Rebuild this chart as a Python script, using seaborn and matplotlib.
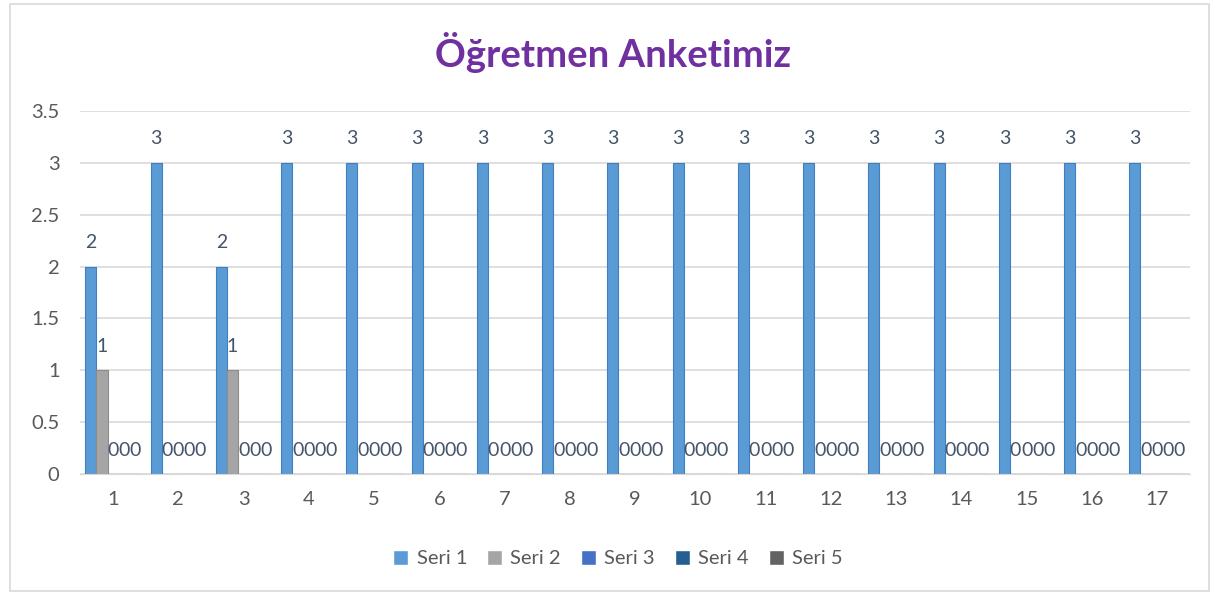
import pandas as pd
import seaborn as sns
import matplotlib.pyplot as plt
from matplotlib.patches import Rectangle

kategoriler = [str(i) for i in range(1, 18)]
seri_adlari = ['Seri 1', 'Seri 2', 'Seri 3', 'Seri 4', 'Seri 5']
seri1 = [2, 3, 2, 3, 3, 3, 3, 3, 3, 3, 3, 3, 3, 3, 3, 3, 3]
seri2 = [1, 0, 1, 0, 0, 0, 0, 0, 0, 0, 0, 0, 0, 0, 0, 0, 0]
seri3 = [0] * 17
seri4 = [0] * 17
seri5 = [0] * 17
renkler = ['#5B9BD5', '#A5A5A5', '#4472C4', '#255E91', '#636363']

df = pd.DataFrame({
    'Kategori': kategoriler * 5,
    'Seri': [s for s in seri_adlari for _ in kategoriler],
    'Deger': seri1 + seri2 + seri3 + seri4 + seri5,
})

sns.set_style('white')
plt.rcParams['font.family'] = ['Lato', 'DejaVu Sans']

fig = plt.figure(figsize=(12.19, 5.93), dpi=100)
ax = fig.add_axes([0.066, 0.2007, 0.910, 0.6123])

sns.barplot(data=df, x='Kategori', y='Deger', hue='Seri', order=kategoriler,
            hue_order=seri_adlari, palette=renkler, width=0.85, saturation=1,
            ax=ax, errorbar=None)

# bar kenarlarina hafif koyu cizgi
for cont, renk in zip(ax.containers, ['#3F7FBF', '#8C8C8C', '#3560AE', '#1D4B76', '#4F4F4F']):
    for bar in cont:
        bar.set_edgecolor(renk)
        bar.set_linewidth(0.8)
    ax.bar_label(cont, fmt='%g', padding=11, fontsize=14, color='#44546A')

ax.set_ylim(0, 3.5)
ax.set_yticks([0, 0.5, 1, 1.5, 2, 2.5, 3, 3.5])
ax.set_yticklabels(['0', '0.5', '1', '1.5', '2', '2.5', '3', '3.5'])
ax.yaxis.grid(True, color='#D9D9D9', linewidth=1.2)
ax.set_axisbelow(True)
for s in ['top', 'right', 'left']:
    ax.spines[s].set_visible(False)
ax.spines['bottom'].set_color('#D9D9D9')
ax.tick_params(axis='both', length=0, labelsize=14.5, labelcolor='#595959')
ax.tick_params(axis='y', pad=15)
ax.tick_params(axis='x', pad=12)
ax.set_xlabel('')
ax.set_ylabel('')

handles, labels = ax.get_legend_handles_labels()
ax.get_legend().remove()
fig.legend(handles, labels, loc='center', bbox_to_anchor=(0.507, 0.058), ncol=5,
           frameon=False, fontsize=14.5, handlelength=0.75, handleheight=0.75,
           handletextpad=0.4, columnspacing=1.0, labelcolor='#595959')

fig.text(0.503, 0.912, 'Öğretmen Anketimiz', ha='center', va='center',
         fontsize=27.5, fontweight='bold', color='#7030A0')

fig.patches.append(Rectangle((0.008, 0.003), 0.984, 0.99, transform=fig.transFigure,
                             fill=False, edgecolor='#D9D9D9', linewidth=1.2))

plt.savefig('out.png', dpi=100)
